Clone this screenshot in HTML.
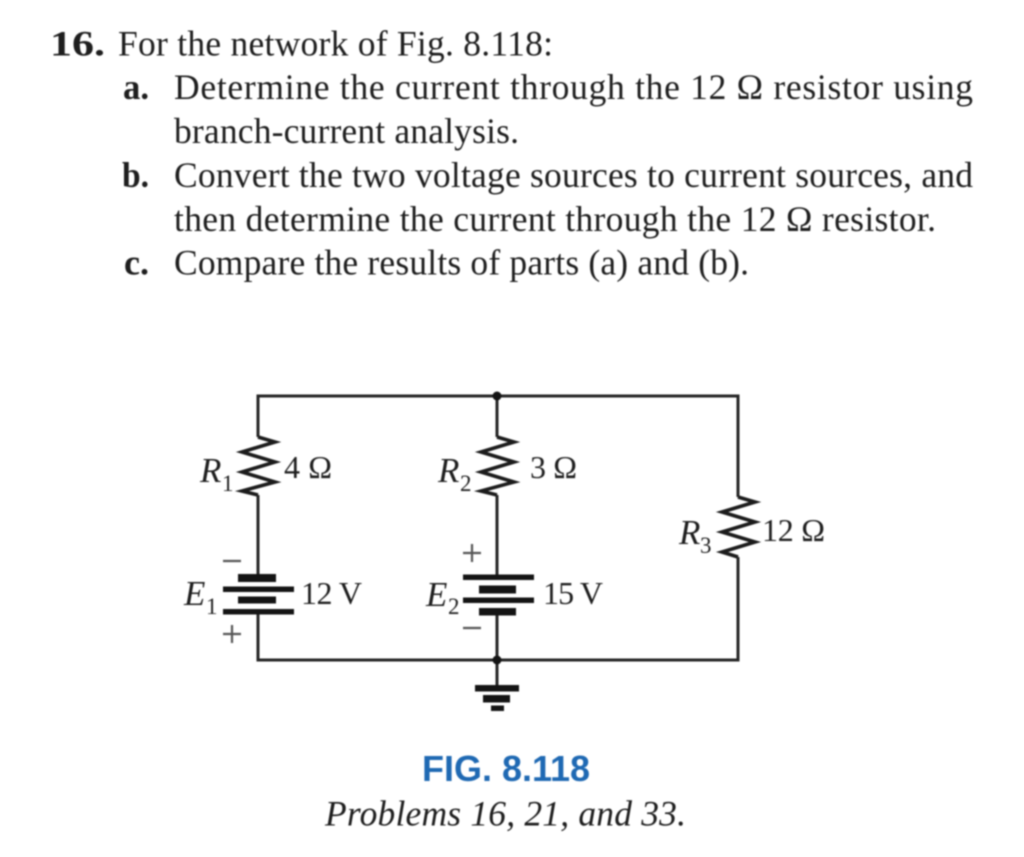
<!DOCTYPE html>
<html><head><meta charset="utf-8">
<style>
html,body{margin:0;padding:0;background:#fff;width:1024px;height:857px;overflow:hidden}
svg{display:block;filter:blur(0.7px)}
text{font-family:"Liberation Serif",serif;fill:#1e1e1e;font-size:35.5px}
.b{font-weight:bold}
.i{font-style:italic}
.d{font-size:32px}
.s{font-size:23px}
.l{font-size:35px}
</style></head><body>
<svg width="1024" height="857" viewBox="0 0 1024 857" xmlns="http://www.w3.org/2000/svg">
<text class="b" x="50" y="55.5" textLength="55" lengthAdjust="spacingAndGlyphs">16.</text>
<text x="118" y="55.5" textLength="435">For the network of Fig. 8.118:</text>
<text class="b" x="123" y="99" textLength="26" lengthAdjust="spacingAndGlyphs">a.</text>
<text x="174" y="99" textLength="799">Determine the current through the 12 Ω resistor using</text>
<text x="174" y="143" textLength="345">branch-current analysis.</text>
<text class="b" x="122" y="187" textLength="27" lengthAdjust="spacingAndGlyphs">b.</text>
<text x="174" y="187" textLength="799">Convert the two voltage sources to current sources, and</text>
<text x="174" y="231" textLength="762">then determine the current through the 12 Ω resistor.</text>
<text class="b" x="124" y="274.5" textLength="25" lengthAdjust="spacingAndGlyphs">c.</text>
<text x="174" y="274.5" textLength="575">Compare the results of parts (a) and (b).</text>

<g fill="none" stroke="#252525" stroke-width="3">
<path d="M258 437V396H738V497M738 557V660H258V612M258 495V577M497 396V437M497 495V577M497 612V688"/>
</g>
<g fill="none" stroke="#1c1c1c" stroke-width="3.6">
<path d="M258 437L275 442L242 452L275 462L242 472L275 482L242 491L258 495"/>
<path d="M497 437L514 442L481 452L514 462L481 472L514 482L481 491L497 495"/>
<path d="M738 497L755 502L722 512L755 522L722 532L755 542L722 552L738 557"/>
</g>
<g fill="#141414">
<rect x="238" y="574" width="38" height="8"/>
<rect x="223" y="586.5" width="71" height="5.5"/>
<rect x="238" y="596.5" width="38" height="7"/>
<rect x="223" y="609" width="71" height="5.5"/>
<rect x="463" y="574.5" width="71" height="5.5"/>
<rect x="479" y="585.5" width="37" height="8"/>
<rect x="463" y="597.5" width="71" height="5.5"/>
<rect x="479" y="608" width="37" height="7.5"/>
<rect x="475" y="685" width="44" height="6.5"/>
<rect x="483" y="695" width="27" height="7.5"/>
<rect x="491" y="705.5" width="13" height="5.5"/>
<circle cx="497" cy="396" r="4.5"/>
<circle cx="497" cy="660" r="4.5"/>
</g>

<text class="l i" x="200" y="482">R</text><text class="s" x="222" y="491">1</text>
<text class="d" x="284" y="478" textLength="48">4 Ω</text>
<text class="l i" x="438" y="482">R</text><text class="s" x="460" y="491">2</text>
<text class="d" x="530" y="478" textLength="47">3 Ω</text>
<text class="l i" x="679" y="544">R</text><text class="s" x="700" y="553">3</text>
<text class="d" x="762" y="541" textLength="63">12 Ω</text>
<text class="l i" x="184" y="605">E</text><text class="s" x="206" y="614">1</text>
<text class="d" x="301" y="604" textLength="61">12 V</text>
<text class="l i" x="426" y="606">E</text><text class="s" x="448" y="614">2</text>
<text class="d" x="543" y="604" textLength="60">15 V</text>

<g stroke="#555" stroke-width="2.2" fill="none">
<path d="M223 561H241M223 634H241M232 625V643"/>
<path d="M463 553H481M472 544V562M463 628H481"/>
</g>

<text x="422" y="781" style="font-family:'Liberation Sans',sans-serif;font-weight:bold;fill:#1f69b3;font-size:36px" textLength="168" lengthAdjust="spacingAndGlyphs">FIG. 8.118</text>
<text class="i" x="325" y="825.5" textLength="361">Problems 16, 21, and 33.</text>
</svg>
</body></html>
